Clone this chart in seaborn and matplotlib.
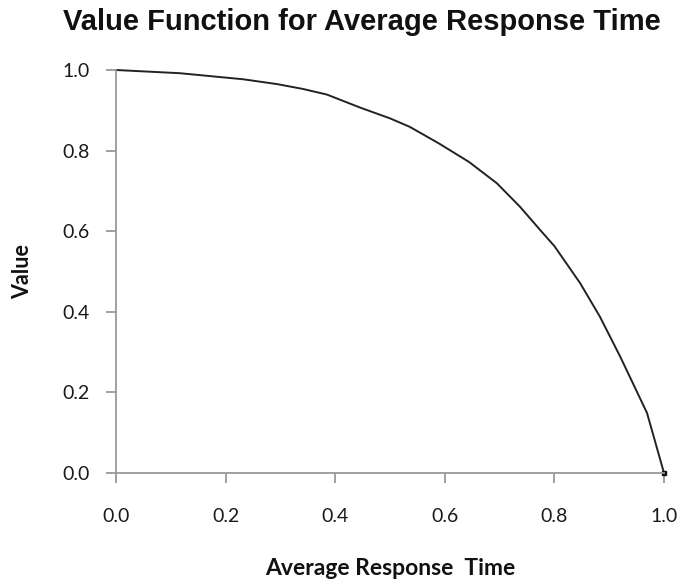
import matplotlib
matplotlib.use("Agg")
import matplotlib.pyplot as plt
import seaborn as sns
import pandas as pd

response_time = [0.0, 0.117, 0.232, 0.294, 0.341, 0.385, 0.445, 0.500, 0.536, 0.589,
                 0.644, 0.695, 0.737, 0.774, 0.800, 0.847, 0.883, 0.920, 0.969, 1.0]
value = [1.0, 0.992, 0.977, 0.965, 0.953, 0.939, 0.907, 0.880, 0.859, 0.818,
         0.772, 0.719, 0.661, 0.603, 0.563, 0.471, 0.388, 0.289, 0.149, 0.0]
tick_values = [0.0, 0.2, 0.4, 0.6, 0.8, 1.0]
tick_labels = ["0.0", "0.2", "0.4", "0.6", "0.8", "1.0"]

df = pd.DataFrame({"Average Response Time": response_time, "Value": value})

sns.set_style("white")
plt.rcParams["font.family"] = ["Lato", "DejaVu Sans"]

fig = plt.figure(figsize=(6.84, 5.86), dpi=100)
ax = fig.add_axes([116/684, 1-473/586, (664-116)/684, (473-70)/586])

sns.lineplot(data=df, x="Average Response Time", y="Value", ax=ax,
             color="#222222", linewidth=1.4, clip_on=False)
ax.plot([response_time[-1]], [value[-1]], marker="s", markersize=3,
        color="#111111", clip_on=False)

ax.set_xlim(0, 1.0)
ax.set_ylim(0, 1.0)
ax.set_xticks(tick_values)
ax.set_xticklabels(tick_labels)
ax.set_yticks(tick_values)
ax.set_yticklabels(tick_labels)

for s in ["top", "right"]:
    ax.spines[s].set_visible(False)
for s in ["left", "bottom"]:
    ax.spines[s].set_color("#999999")
    ax.spines[s].set_linewidth(1.3)

ax.tick_params(axis="y", direction="out", length=7, width=1.3, color="#999999",
               pad=12, labelsize=14, labelcolor="#1a1a1a", left=True)
ax.tick_params(axis="x", direction="out", length=7, width=1.3, color="#999999",
               pad=18, labelsize=14, labelcolor="#1a1a1a", bottom=True)

ax.set_xlabel("Average Response  Time", fontsize=16.5, fontweight="bold",
              color="#111111")
ax.set_ylabel("Value", fontsize=15.5, fontweight="bold", color="#111111")
ax.xaxis.set_label_coords(0.5, -(568 - 473 - 10) / 403)
ax.yaxis.set_label_coords(-(116 - 33) / 548, 0.5)

fig.suptitle("Value Function for Average Response Time", x=362/684, y=1-22/586,
             va="center", fontsize=21, fontweight="bold",
             family=["Liberation Sans", "DejaVu Sans"], color="#111111")

fig.savefig("out.png", dpi=100)
